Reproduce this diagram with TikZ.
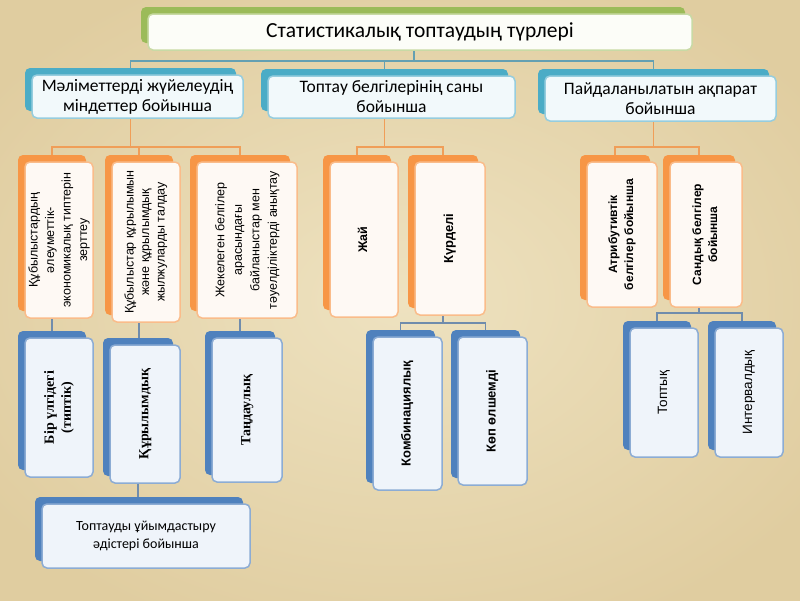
\documentclass[tikz,border=0pt]{standalone}
\usepackage{fontspec}
\usepackage{graphicx}
\setmainfont{Carlito}
\newfontfamily\ari{Liberation Sans}
\newfontfamily\tim{Liberation Serif}
\usetikzlibrary{shadows}
\pgfdeclarelayer{bg}
\pgfsetlayers{bg,main}
\definecolor{bgA}{RGB}{238,226,192}
\definecolor{bgB}{RGB}{224,205,160}
\definecolor{grn}{RGB}{155,187,89}
\definecolor{grnL}{RGB}{200,218,165}
\definecolor{aqua}{RGB}{75,172,198}
\definecolor{aquaL}{RGB}{150,205,222}
\definecolor{org}{RGB}{247,150,70}
\definecolor{orgL}{RGB}{250,188,138}
\definecolor{blu}{RGB}{79,129,189}
\definecolor{bluL}{RGB}{140,172,212}
\definecolor{grnF}{RGB}{252,253,248}
\definecolor{aquaF}{RGB}{242,249,251}
\definecolor{orgF}{RGB}{254,249,244}
\definecolor{bluF}{RGB}{239,244,250}
\definecolor{tealln}{RGB}{100,160,178}
\definecolor{orgln}{RGB}{240,158,88}
\definecolor{bluln}{RGB}{112,140,172}
\newcommand\rt[1]{\rotatebox{90}{\begin{tabular}{@{}c@{}}#1\end{tabular}}}
\begin{document}
\begin{tikzpicture}[x=1pt,y=-1pt,
  box/.style={rectangle, rounded corners=5pt, line width=1.5pt, inner sep=0pt, align=center},
  tbox/.style={box, fill=grnF, draw=grnL, copy shadow={shadow xshift=-7pt, shadow yshift=7pt, fill=grn, draw=none}},
  abox/.style={box, fill=aquaF, draw=aquaL, copy shadow={shadow xshift=-7pt, shadow yshift=7pt, fill=aqua, draw=none}},
  obox/.style={box, fill=orgF, draw=orgL, copy shadow={shadow xshift=-7pt, shadow yshift=7pt, fill=org, draw=none}},
  bbox/.style={box, fill=bluF, draw=bluL, copy shadow={shadow xshift=-7pt, shadow yshift=7pt, fill=blu, draw=none}},
  tl/.style={draw=tealln, line width=1.6pt},
  ol/.style={draw=orgln, line width=1.6pt},
  bl/.style={draw=bluln, line width=1.6pt},
  sz/.style args={#1x#2}{minimum width=#1pt, minimum height=#2pt}
]
\useasboundingbox (0,0) rectangle (800,600);
% level 1
\node[tbox, sz=544x36, font=\fontsize{21.5}{25}\selectfont] (title) at (420,32) {Статистикалық топтаудың түрлері};
% level 2
\node[abox, sz=211x43, font=\fontsize{17.5}{20}\selectfont] (A) at (137.5,96.5) {Мәліметтерді жүйелеудің\\ міндеттер бойынша};
\node[abox, sz=247x42, font=\fontsize{17.5}{20}\selectfont] (B) at (391.5,97) {Топтау белгілерінің саны\\ бойынша};
\node[abox, sz=231x45, font=\fontsize{17.5}{20}\selectfont] (C) at (660.5,98.5) {Пайдаланылатын ақпарат\\ бойынша};
% level 3
\node[obox, sz=68x156] (L1) at (59,240) {\ari\fontsize{12.5}{16.5}\selectfont\rt{Құбылыстардың\\әлеуметтік-\\экономикалық типтерін\\зерттеу}};
\node[obox, sz=68x160] (L2) at (146,242) {\ari\fontsize{12.5}{15.5}\selectfont\rt{Құбылыстар құрылымын\\және құрылымдық\\жылжуларды талдау}};
\node[obox, sz=100x156] (L3) at (247,240) {\ari\fontsize{12.5}{17.5}\selectfont\rt{Жекелеген белгілер\\арасындағы\\байланыстар мен\\тәуелділіктерді анықтау}};
\node[obox, sz=68x155] (Jai) at (364,239.5) {\ari\bfseries\fontsize{12.5}{15}\selectfont\rt{Жай}};
\node[obox, sz=70x153] (Kur) at (450,238.5) {\ari\bfseries\fontsize{13}{15}\selectfont\rt{Күрделі}};
\node[obox, sz=70x145] (Atr) at (622,234.5) {\ari\bfseries\fontsize{12}{16}\selectfont\rt{Атрибутивтік\\белгілер бойынша}};
\node[obox, sz=72x145] (San) at (706,234.5) {\ari\bfseries\fontsize{12}{16}\selectfont\rt{Сандық белгілер\\бойынша}};
% level 4
\node[bbox, sz=68x139] (B1) at (59,407.5) {\tim\bfseries\fontsize{14}{17}\selectfont\rt{Бір үлгідегі\\(типтік)}};
\node[bbox, sz=70x138] (B2) at (145,414) {\tim\bfseries\fontsize{14}{17}\selectfont\rt{Құрылымдық}};
\node[bbox, sz=70x144] (B3) at (247,410) {\tim\bfseries\fontsize{14}{17}\selectfont\rt{Таңдаулық}};
\node[bbox, sz=69x153] (K1) at (407.5,413.5) {\ari\bfseries\fontsize{13}{16}\selectfont\rt{Комбинациялық}};
\node[bbox, sz=69x148] (K2) at (492.5,411) {\ari\bfseries\fontsize{13}{16}\selectfont\rt{Көп өлшемді}};
\node[bbox, sz=68x129] (T1) at (664,392.5) {\ari\fontsize{13.5}{16}\selectfont\rt{Топтық}};
\node[bbox, sz=68x129] (T2) at (749,392.5) {\ari\fontsize{13.5}{16}\selectfont\rt{Интервалдық}};
% level 5
\node[bbox, sz=208x64, font=\fontsize{14}{18}\selectfont] (D) at (146,536) {Топтауды ұйымдастыру\\ әдістері бойынша};
% bus levels
\coordinate (ty) at (0,61);
\coordinate (oy) at (0,147);
\coordinate (ky) at (0,323);
\coordinate (sy) at (0,313);
\begin{pgfonlayer}{bg}
\fill[bgB] (0,0) rectangle (800,600);
\shade[inner color=bgA, outer color=bgB] (-100,-60) rectangle (900,660);
% top bus
\draw[tl] ([xshift=-6pt]title.south) -- ([xshift=-6pt]title.south |- ty);
\draw[tl] ([xshift=-7pt]A.north) |- ([xshift=-7pt]C.north |- ty) -- ([xshift=-7pt]C.north);
\draw[tl] ([xshift=-7pt]B.north) -- ([xshift=-7pt]B.north |- ty);
% orange buses
\draw[ol] ([xshift=-7pt]A.south) -- ([xshift=-7pt]A.south |- oy);
\draw[ol] ([xshift=-7pt]L1.north) |- ([xshift=-7pt]L3.north |- oy) -- ([xshift=-7pt]L3.north);
\draw[ol] ([xshift=-7pt]L2.north) -- ([xshift=-7pt]L2.north |- oy);
\draw[ol] ([xshift=-7pt]B.south) -- ([xshift=-7pt]B.south |- oy);
\draw[ol] ([xshift=-7pt]Jai.north) |- ([xshift=-7pt]Kur.north |- oy) -- ([xshift=-7pt]Kur.north);
\draw[ol] ([xshift=-7pt]C.south) -- ([xshift=-7pt]C.south |- oy);
\draw[ol] ([xshift=-7pt]Atr.north) |- ([xshift=-7pt]San.north |- oy) -- ([xshift=-7pt]San.north);
% blue connectors
\draw[bl] ([xshift=-7pt]L1.south) -- ([xshift=-7pt]L1.south |- B1.north);
\draw[bl] ([xshift=-7pt]L2.south) -- ([xshift=-7pt]L2.south |- B2.north);
\draw[bl] ([xshift=-7pt]L3.south) -- ([xshift=-7pt]L3.south |- B3.north);
\draw[bl] ([xshift=-7pt]B2.south) -- ([xshift=-7pt]B2.south |- D.north);
\draw[bl] ([xshift=-7pt]Kur.south) -- ([xshift=-7pt]Kur.south |- ky);
\draw[bl] ([xshift=-7pt]K1.north) |- ([xshift=-7pt]K2.north |- ky) -- ([xshift=-7pt]K2.north);
\draw[bl] ([xshift=-7pt]San.south) -- ([xshift=-7pt]San.south |- sy);
\draw[bl] ([xshift=-7pt]T1.north) |- ([xshift=-7pt]T2.north |- sy) -- ([xshift=-7pt]T2.north);
\end{pgfonlayer}
\end{tikzpicture}
\end{document}
